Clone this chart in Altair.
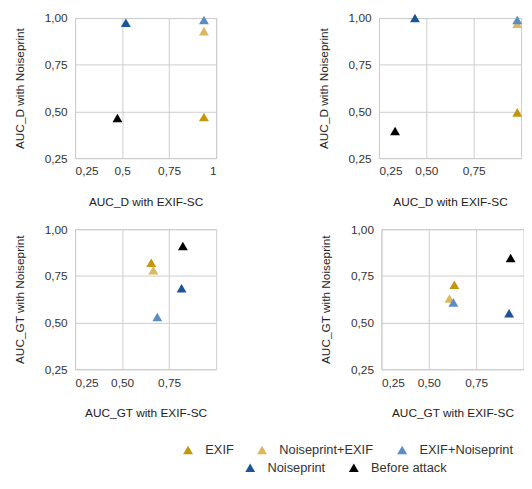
import altair as alt
import pandas as pd

series = ["EXIF", "Noiseprint+EXIF", "EXIF+Noiseprint", "Noiseprint", "Before attack"]
colors = ["#c4960c", "#dcb860", "#5b8dc0", "#1c5597", "#000000"]

# Panel values (x = with EXIF-SC, y = with Noiseprint), in series order
d1_x = [0.935, 0.935, 0.935, 0.52, 0.475]
d1_y = [0.47, 0.93, 0.99, 0.975, 0.465]
d2_x = [0.98, 0.98, 0.98, 0.44, 0.335]
d2_y = [0.495, 0.97, 0.99, 1.0, 0.395]
g1_x = [0.655, 0.666, 0.687, 0.816, 0.823]
g1_y = [0.82, 0.78, 0.53, 0.684, 0.91]
g2_x = [0.635, 0.609, 0.63, 0.924, 0.932]
g2_y = [0.703, 0.629, 0.608, 0.55, 0.846]

y_ticks = [0.25, 0.5, 0.75, 1.0]
x_ticks_full = [0.25, 0.5, 0.75, 1.0]
x_ticks_short = [0.25, 0.5, 0.75]

FMT2 = "replace(format(datum.value, '.2f'), '.', ',')"
FMTG = "replace(format(datum.value, '~g'), '.', ',')"

legend_a = alt.Legend(title=None, orient="none", direction="horizontal",
                      legendX=108, legendY=431, symbolType="triangle-up",
                      symbolSize=100, labelFontSize=13, labelOffset=11,
                      columnPadding=22, labelColor="#333333")
legend_b = alt.Legend(title=None, orient="none", direction="horizontal",
                      legendX=171, legendY=449, symbolType="triangle-up",
                      symbolSize=100, labelFontSize=13, labelOffset=11,
                      columnPadding=22, labelColor="#333333")


def panel(px, py, metric, width, xvals, xfmt):
    df = pd.DataFrame({"series": series, "x": px, "y": py})
    xenc = alt.X("x:Q", scale=alt.Scale(domain=[0.25, 1.0], nice=False, zero=False),
                 axis=alt.Axis(values=xvals, labelExpr=xfmt,
                               title=f"{metric} with EXIF-SC"))
    yenc = alt.Y("y:Q", scale=alt.Scale(domain=[0.25, 1.0], nice=False, zero=False),
                 axis=alt.Axis(values=y_ticks, labelExpr=FMT2,
                               title=f"{metric} with Noiseprint"))
    base = alt.Chart(df).mark_point(filled=True, shape="triangle-up", size=100, opacity=1)
    a = base.transform_filter(
        alt.FieldOneOfPredicate(field="series", oneOf=series[:3])
    ).encode(
        x=xenc, y=yenc,
        color=alt.Color("series:N", scale=alt.Scale(domain=series[:3], range=colors[:3]),
                        legend=legend_a),
    )
    b = base.transform_filter(
        alt.FieldOneOfPredicate(field="series", oneOf=series[3:])
    ).encode(
        x=xenc, y=yenc,
        fill=alt.Fill("series:N", scale=alt.Scale(domain=series[3:], range=colors[3:]),
                      legend=legend_b),
    )
    return alt.layer(b, a).properties(width=width, height=142)


p1 = panel(d1_x, d1_y, "AUC_D", 143, x_ticks_full, FMTG)
p2 = panel(d2_x, d2_y, "AUC_D", 144, x_ticks_short, FMT2)
p3 = panel(g1_x, g1_y, "AUC_GT", 143, x_ticks_short, FMT2)
p4 = panel(g2_x, g2_y, "AUC_GT", 144, x_ticks_short, FMT2)

top = alt.hconcat(p1, p2, spacing=101)
bottom = alt.hconcat(p3, p4, spacing=103.5)

chart = alt.vconcat(top, bottom, spacing=14).properties(
    padding={"left": 5, "top": 0, "right": 0, "bottom": 0}
).configure(
    font="Liberation Sans",
).configure_view(
    stroke="#cccccc", strokeWidth=1,
).configure_axis(
    labelFont="Liberation Sans", titleFont="Liberation Sans",
    labelFontSize=12, titleFontSize=12, titleFontWeight="normal",
    labelColor="#333333", titleColor="#222222",
    grid=True, gridColor="#cccccc", domain=False, ticks=False,
).configure_axisX(
    labelPadding=8, titlePadding=20,
).configure_axisY(
    labelPadding=8, titlePadding=18,
).configure_legend(
    labelFont="Liberation Sans",
)

chart.save("out.html", embed_options={"renderer": "svg", "actions": False})
